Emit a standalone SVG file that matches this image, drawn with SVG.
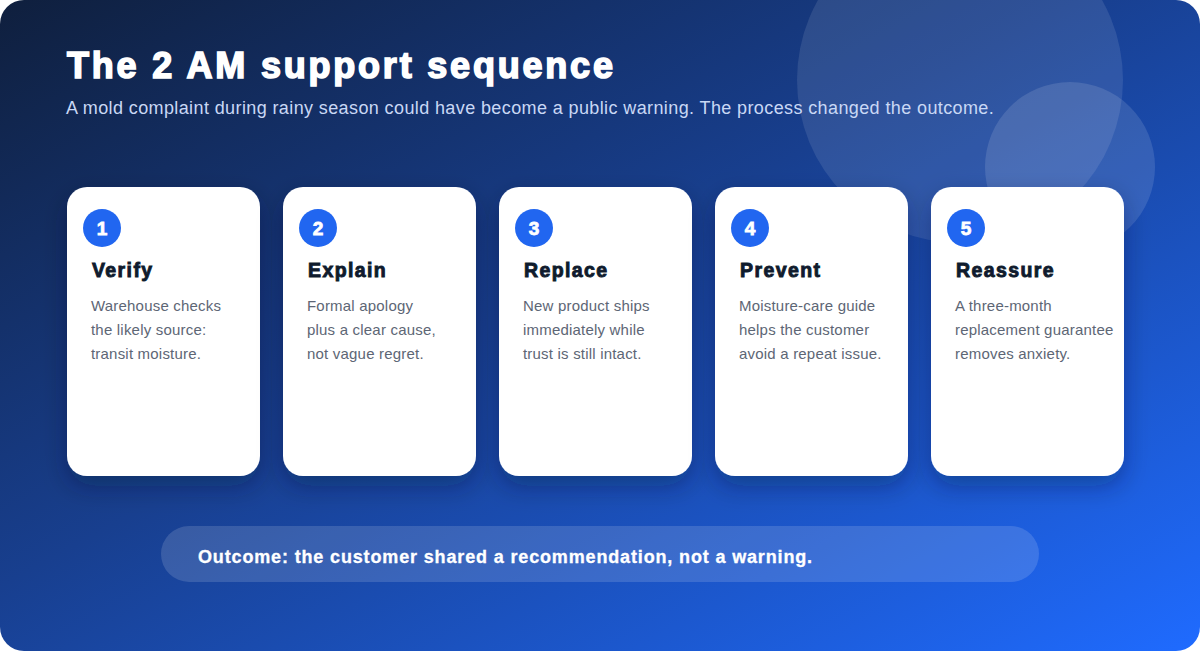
<svg xmlns="http://www.w3.org/2000/svg" width="1200" height="651" viewBox="0 0 1200 651">
<defs>
<linearGradient id="bg" x1="0" y1="0" x2="1" y2="1">
<stop offset="0" stop-color="#0f1f3d"/>
<stop offset="0.45" stop-color="#183f8f"/>
<stop offset="1" stop-color="#1f6bff"/>
</linearGradient>
<filter id="sh" x="-20%" y="-20%" width="140%" height="150%">
<feDropShadow dx="0" dy="10" stdDeviation="12" flood-color="#061230" flood-opacity="0.35"/>
</filter>
<style>
.card{fill:#ffffff;filter:url(#sh)}
.num{fill:#2166f0}
.numt{font-family:"Liberation Sans",Arial,sans-serif;font-weight:700;font-size:19px;fill:#fff;stroke:#fff;stroke-width:0.8px;text-anchor:middle}
.ttl{font-family:"Liberation Sans",Arial,sans-serif;font-weight:700;font-size:19.5px;fill:#0f1b2d;stroke:#0f1b2d;stroke-width:0.9px;letter-spacing:1.4px}
.desc{font-family:"Liberation Sans",Arial,sans-serif;font-size:15px;fill:#5d6675;letter-spacing:0.2px}
</style>
</defs>
<rect x="0" y="0" width="1200" height="651" rx="24" fill="url(#bg)"/>
<circle cx="960" cy="80" r="163" fill="#ffffff" fill-opacity="0.1"/>
<circle cx="1070" cy="167" r="85" fill="#ffffff" fill-opacity="0.12"/>
<text x="67" y="78" font-family="'Liberation Sans',Arial,sans-serif" font-weight="700" font-size="36" fill="#ffffff" stroke="#ffffff" stroke-width="1.6" letter-spacing="2.8">The 2 AM support sequence</text>
<text x="66" y="114" font-family="'Liberation Sans',Arial,sans-serif" font-size="18" fill="#c9d8f5" letter-spacing="0.39">A mold complaint during rainy season could have become a public warning. The process changed the outcome.</text>
<g id="step1">
<rect class="card" x="67" y="187" width="193" height="289" rx="20"/>
<circle class="num" cx="102" cy="228" r="19"/>
<text class="numt" x="102" y="235">1</text>
<text class="ttl" x="92" y="277">Verify</text>
<text class="desc" x="91" y="311">Warehouse checks</text>
<text class="desc" x="91" y="335">the likely source:</text>
<text class="desc" x="91" y="359">transit moisture.</text>
</g>
<g id="step2">
<rect class="card" x="283" y="187" width="193" height="289" rx="20"/>
<circle class="num" cx="318" cy="228" r="19"/>
<text class="numt" x="318" y="235">2</text>
<text class="ttl" x="308" y="277">Explain</text>
<text class="desc" x="307" y="311">Formal apology</text>
<text class="desc" x="307" y="335">plus a clear cause,</text>
<text class="desc" x="307" y="359">not vague regret.</text>
</g>
<g id="step3">
<rect class="card" x="499" y="187" width="193" height="289" rx="20"/>
<circle class="num" cx="534" cy="228" r="19"/>
<text class="numt" x="534" y="235">3</text>
<text class="ttl" x="524" y="277">Replace</text>
<text class="desc" x="523" y="311">New product ships</text>
<text class="desc" x="523" y="335">immediately while</text>
<text class="desc" x="523" y="359">trust is still intact.</text>
</g>
<g id="step4">
<rect class="card" x="715" y="187" width="193" height="289" rx="20"/>
<circle class="num" cx="750" cy="228" r="19"/>
<text class="numt" x="750" y="235">4</text>
<text class="ttl" x="740" y="277">Prevent</text>
<text class="desc" x="739" y="311">Moisture-care guide</text>
<text class="desc" x="739" y="335">helps the customer</text>
<text class="desc" x="739" y="359">avoid a repeat issue.</text>
</g>
<g id="step5">
<rect class="card" x="931" y="187" width="193" height="289" rx="20"/>
<circle class="num" cx="966" cy="228" r="19"/>
<text class="numt" x="966" y="235">5</text>
<text class="ttl" x="956" y="277">Reassure</text>
<text class="desc" x="955" y="311">A three-month</text>
<text class="desc" x="955" y="335">replacement guarantee</text>
<text class="desc" x="955" y="359">removes anxiety.</text>
</g>
<g id="connectors"></g>
<g id="outcome">
<rect x="161" y="526" width="878" height="56" rx="28" fill="#ffffff" fill-opacity="0.14"/>
<text x="198" y="563" font-family="'Liberation Sans',Arial,sans-serif" font-weight="700" font-size="18" fill="#ffffff" stroke="#ffffff" stroke-width="0.3" letter-spacing="0.85">Outcome: the customer shared a recommendation, not a warning.</text>
</g>
</svg>
